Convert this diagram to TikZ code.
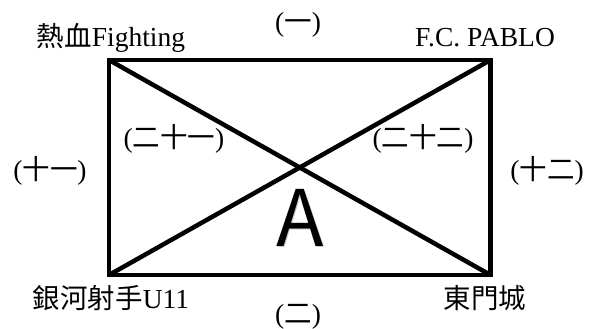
\documentclass[tikz,border=0pt]{standalone}
\usepackage{fontspec}
\setmainfont{Liberation Serif}
\newfontfamily\cjk{Noto Sans CJK TC}
\newfontfamily\bigsans{Noto Sans CJK TC}
\begin{document}
\begin{tikzpicture}[x=1pt,y=-1pt,
  edge/.style={line width=4.5pt, line join=miter, draw=black},
  lbl/.style={inner sep=0pt, anchor=base, font=\fontsize{27.5}{30}\selectfont},
  biglbl/.style={inner sep=0pt, anchor=base, font=\bigsans\fontsize{78}{80}\selectfont},
]
\useasboundingbox (0,0) rectangle (590,329);
\coordinate (tl) at (109,60);
\coordinate (tr) at (490.5,60);
\coordinate (br) at (490.5,275);
\coordinate (bl) at (109,275);
\draw[edge] (tl) -- (tr) -- (br) -- (bl) -- cycle;
\draw[edge] (tl) -- (br);
\draw[edge] (bl) -- (tr);
\node[lbl] (ntl) at (111,47) {{\cjk 熱血}Fighting};
\node[lbl] (ntr) at (485,47) {F.C. PABLO};
\node[lbl] (nbl) at (111,308) {{\cjk 銀河射手}U11};
\node[lbl] (nbr) at (485,308) {{\cjk 東門城}};
\node[lbl] (e1) at (298,32) {({\cjk 一})};
\node[lbl] (e2) at (298,323) {({\cjk 二})};
\node[lbl] (e11) at (50,179) {({\cjk 十一})};
\node[lbl] (e12) at (547,179) {({\cjk 十二})};
\node[lbl] (e21) at (174,147) {({\cjk 二十一})};
\node[lbl] (e22) at (423,147) {({\cjk 二十二})};
\node[biglbl, text=black!20] (ashadow) at (301.2,247.2) {A};
\node[biglbl] (a) at (300,246) {A};
\end{tikzpicture}
\end{document}
